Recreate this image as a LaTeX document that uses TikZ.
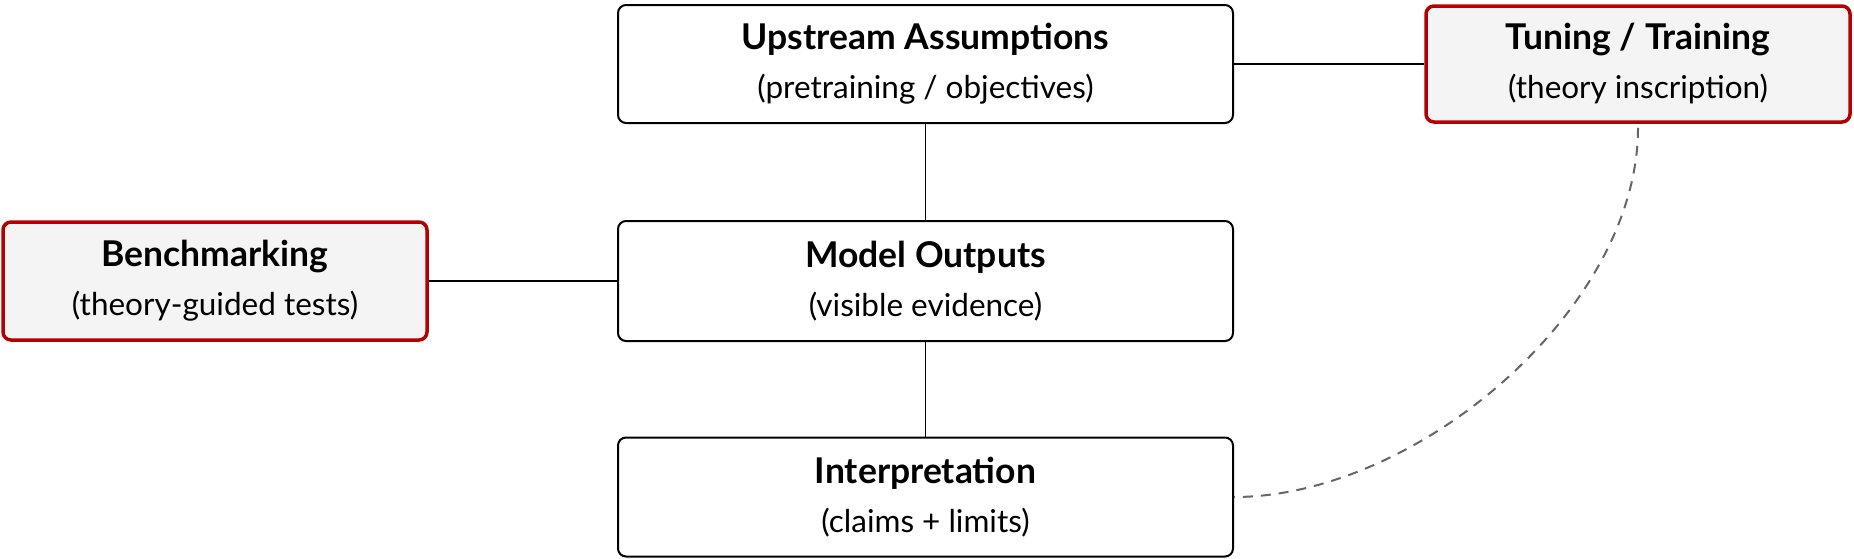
\documentclass[tikz,border=0pt]{standalone}
\usepackage{fontspec}
\setmainfont{Lato}
\begin{document}
\begin{tikzpicture}[x=1pt,y=1pt,
  box/.style={draw=black, line width=2pt, rounded corners=8pt, fill=white, align=center, inner sep=0pt, font=\fontsize{31.5}{50}\selectfont},
  hbox/.style={draw=redline, line width=3.5pt, rounded corners=8pt, fill=boxfill, align=center, inner sep=0pt, font=\fontsize{31.5}{50}\selectfont},
  conn/.style={draw=black, line width=1.8pt},
  dconn/.style={draw=dashgray, line width=2pt, dash pattern=on 10pt off 8pt}
]
\definecolor{redline}{HTML}{B30000}
\definecolor{boxfill}{HTML}{F4F4F4}
\definecolor{dashgray}{HTML}{666666}
\useasboundingbox (0,0) rectangle (1854,-558);
\newcommand{\ttl}[2]{{\fontsize{35.5}{50}\selectfont\bfseries #1}\\[-1pt]#2}
\node[box, minimum width=615pt, minimum height=118pt] (up) at (925.5,-64) {\ttl{Upstream Assumptions}{(pretraining / objectives)}};
\node[hbox, minimum width=424pt, minimum height=116pt] (tune) at (1638,-64) {\ttl{Tuning / Training}{(theory inscription)}};
\node[hbox, minimum width=424pt, minimum height=118pt] (bench) at (215,-281) {\ttl{Benchmarking}{(theory-guided tests)}};
\node[box, minimum width=615pt, minimum height=120pt] (model) at (925.5,-281) {\ttl{Model Outputs}{(visible evidence)}};
\node[box, minimum width=615pt, minimum height=119pt] (interp) at (925.5,-497) {\ttl{Interpretation}{(claims + limits)}};
\draw[conn] (up.east) -- (tune.west);
\draw[conn] (up.south) -- (model.north);
\draw[conn] (model.south) -- (interp.north);
\draw[conn] (bench.east) -- (model.west);
\draw[dconn] ([yshift=-4pt]tune.south) to[out=-90,in=0,looseness=0.85] (interp.east);
\end{tikzpicture}
\end{document}
